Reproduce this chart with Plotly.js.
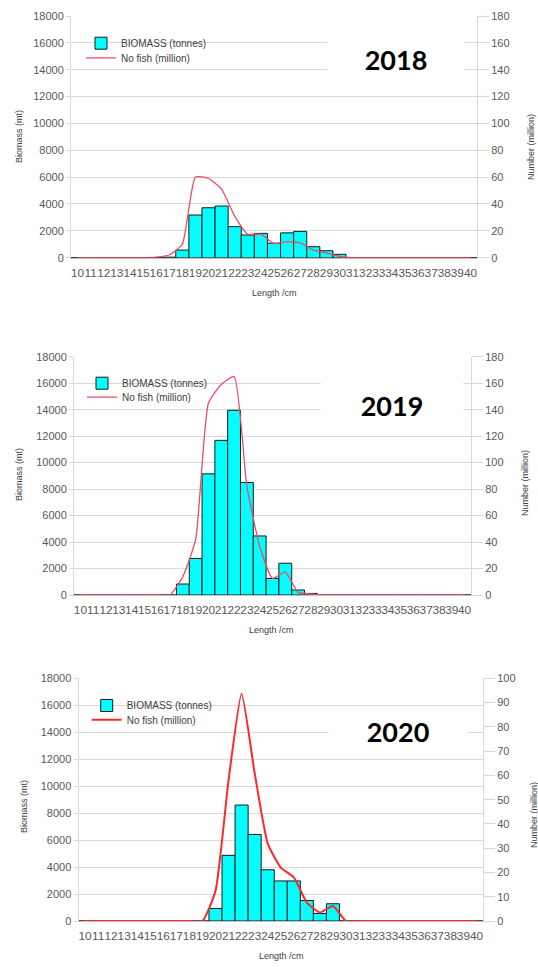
<!DOCTYPE html>
<html>
<head>
<meta charset="utf-8">
<script src="https://cdn.plot.ly/plotly-3.0.1.min.js"></script>
<style>html,body{margin:0;padding:0;background:#fff;}#chart{width:538px;height:967px;}</style>
</head>
<body>
<div id="chart"></div>
<script>
// ---- data ----
const categories = ['10','11','12','13','14','15','16','17','18','19','20','21','22','23','24','25','26','27','28','29','30','31','32','33','34','35','36','37','38','39','40'];
const years = ['2018','2019','2020'];
const biomassName = 'BIOMASS (tonnes)';
const fishName = 'No fish (million)';

// Biomass (tonnes) per length class
const biomass2018 = [0,0,0,0,0,0,0,40,570,3180,3720,3850,2310,1690,1810,1080,1850,1960,820,520,250,0,0,0,0,0,0,0,0,0,0];
const biomass2019 = [0,0,0,0,0,0,0,0,830,2760,9150,11680,13950,8500,4460,1250,2400,380,120,0,0,0,0,0,0,0,0,0,0,0,0];
const biomass2020 = [0,0,0,0,0,0,0,0,0,0,930,4870,8600,6420,3800,2970,2970,1520,560,1280,0,0,0,0,0,0,0,0,0,0,0];

// Number of fish (million) per length class
const fish2018 = [0,0,0,0,0,0,0.4,2,10,60,59,51,31,17.5,17.5,10.5,12,11,5.7,3.6,1,0,0,0,0,0,0,0,0,0,0];
const fish2019 = [0,0,0,0,0,0,0,0,14,42,145,159,165,82,37,12.5,17.5,2,0.8,0,0,0,0,0,0,0,0,0,0,0,0];
const fish2020 = [0,0,0,0,0,0,0,0,0,0,12.5,58,93.6,61,32,22,18,7.6,3.5,6.2,0,0,0,0,0,0,0,0,0,0,0];

const biomassSeries = [biomass2018, biomass2019, biomass2020];
const fishSeries = [fish2018, fish2019, fish2020];

// ---- layout geometry (pixels) ----
const W = 538, H = 967;
const px = x => x / W;
const py = y => 1 - y / H;

const panels = [
  {l:71,  r:477, t:16,    b:257.7, rightMax:180, rightDtick:20,
   legX:81, legY1:28.7, legY2:43.3, yearX:396, yearY:59, boxW:134, boxH:46,
   yTitleX:19, yTitleY:137, rTitleX:531, rTitleY:147, xTitleX:274, xTitleY:293,
   lineColor:'#EE4A62', lineWidth:1.3},
  {l:74,  r:471, t:356.7, b:595,   rightMax:180, rightDtick:20,
   legX:82, legY1:368.7, legY2:382.7, yearX:392, yearY:405, boxW:140, boxH:46,
   yTitleX:19, yTitleY:475, rTitleX:525, rTitleY:483, xTitleX:271, xTitleY:630,
   lineColor:'#EE4A62', lineWidth:1.3},
  {l:78.5,r:483, t:678.3, b:921,   rightMax:100, rightDtick:10,
   legX:86.7, legY1:691, legY2:705.3, yearX:398, yearY:731, boxW:136, boxH:46,
   yTitleX:24, yTitleY:807, rTitleX:534, rTitleY:815, xTitleX:281, xTitleY:956,
   lineColor:'#FF2828', lineWidth:2}
];

const yTickFont = {family:'Liberation Sans, Arial, sans-serif', size:11, color:'#595959'};
const xTickFont = {family:'Liberation Sans, Arial, sans-serif', size:11.8, color:'#595959'};
const titleFont = {family:'Liberation Sans, Arial, sans-serif', size:9, color:'#404040'};
const legendFont = {family:'Liberation Sans, Arial, sans-serif', size:10, color:'#404040'};
const gridColor = '#D9D9D9';
const axisLineColor = '#BFBFBF';

const data = [];
const layout = {
  width: W, height: H,
  margin: {l:0, r:0, t:0, b:0, pad:0},
  paper_bgcolor: '#ffffff',
  plot_bgcolor: '#ffffff',
  bargap: 0,
  showlegend: true,
  annotations: [],
  font: {family:'Liberation Sans, Arial, sans-serif'}
};

function legendKey(n) { return n === 1 ? 'legend' : 'legend' + n; }

panels.forEach((p, i) => {
  const xa = i === 0 ? 'x' : 'x' + (i + 1);
  const yl = i === 0 ? 'y' : 'y' + (2 * i + 1);
  const yr = 'y' + (2 * i + 2);
  const legBar = legendKey(2 * i + 1);
  const legLine = legendKey(2 * i + 2);

  data.push({
    type: 'bar', name: biomassName, x: categories, y: biomassSeries[i],
    xaxis: xa, yaxis: yl, legend: legBar, showlegend: true,
    marker: {color: '#00FFFF', line: {color: '#1a1a1a', width: 1}},
    hoverinfo: 'x+y'
  });
  data.push({
    type: 'scatter', mode: 'lines', name: fishName, x: categories, y: fishSeries[i],
    xaxis: xa, yaxis: yr, legend: legLine, showlegend: true,
    line: {color: p.lineColor, width: p.lineWidth, shape: 'spline', smoothing: 0.5},
    hoverinfo: 'x+y'
  });

  const xKey = i === 0 ? 'xaxis' : 'xaxis' + (i + 1);
  const ylKey = i === 0 ? 'yaxis' : 'yaxis' + (2 * i + 1);
  const yrKey = 'yaxis' + (2 * i + 2);

  layout[xKey] = {
    domain: [px(p.l), px(p.r)], anchor: yl, type: 'category',
    tickmode: 'array', tickvals: categories, ticktext: categories, tickangle: 0,
    ticks: 'outside', ticklen: 4, tickcolor: 'rgba(0,0,0,0)',
    tickfont: xTickFont, showgrid: false, showline: true, linecolor: axisLineColor,
    zeroline: false, fixedrange: true
  };
  layout[ylKey] = {
    domain: [py(p.b), py(p.t)], anchor: xa, range: [0, 18000], dtick: 2000,
    tickformat: 'd', ticks: 'outside', ticklen: 4, tickcolor: gridColor,
    tickfont: yTickFont, showgrid: true, gridcolor: gridColor, gridwidth: 1,
    showline: true, linecolor: gridColor, zeroline: false, fixedrange: true
  };
  layout[yrKey] = {
    overlaying: yl, side: 'right', anchor: xa, range: [0, p.rightMax], dtick: p.rightDtick,
    ticks: 'outside', ticklen: 11, tickcolor: gridColor,
    tickfont: yTickFont, showgrid: false, showline: true, linecolor: gridColor,
    zeroline: false, fixedrange: true
  };

  const legBase = {
    x: px(p.legX), xanchor: 'left', yanchor: 'top', visible: true,
    bgcolor: 'rgba(255,255,255,0)', borderwidth: 0,
    font: legendFont, traceorder: 'normal', tracegroupgap: 0, itemwidth: 30
  };
  layout[legBar] = Object.assign({}, legBase, {y: py(p.legY1)});
  layout[legLine] = Object.assign({}, legBase, {y: py(p.legY2)});

  // year label with white box
  layout.annotations.push({
    xref: 'paper', yref: 'paper', x: px(p.yearX), y: py(p.yearY),
    xanchor: 'center', yanchor: 'middle', showarrow: false,
    text: '<b>' + years[i] + '</b>', width: p.boxW, height: p.boxH,
    bgcolor: '#ffffff', align: 'center', valign: 'middle',
    font: {family: 'Lato, Open Sans, sans-serif', size: 27, color: '#000000'}
  });
  // axis titles
  layout.annotations.push({
    xref: 'paper', yref: 'paper', x: px(p.yTitleX), y: py(p.yTitleY),
    xanchor: 'center', yanchor: 'middle', showarrow: false, textangle: -90,
    text: 'Biomass (mt)', font: titleFont
  });
  layout.annotations.push({
    xref: 'paper', yref: 'paper', x: px(p.rTitleX), y: py(p.rTitleY),
    xanchor: 'center', yanchor: 'middle', showarrow: false, textangle: -90,
    text: 'Number (million)', font: titleFont
  });
  layout.annotations.push({
    xref: 'paper', yref: 'paper', x: px(p.xTitleX), y: py(p.xTitleY),
    xanchor: 'center', yanchor: 'middle', showarrow: false,
    text: 'Length /cm', font: titleFont
  });
});

Plotly.newPlot('chart', data, layout, {displayModeBar: false, staticPlot: true});
</script>
</body>
</html>
